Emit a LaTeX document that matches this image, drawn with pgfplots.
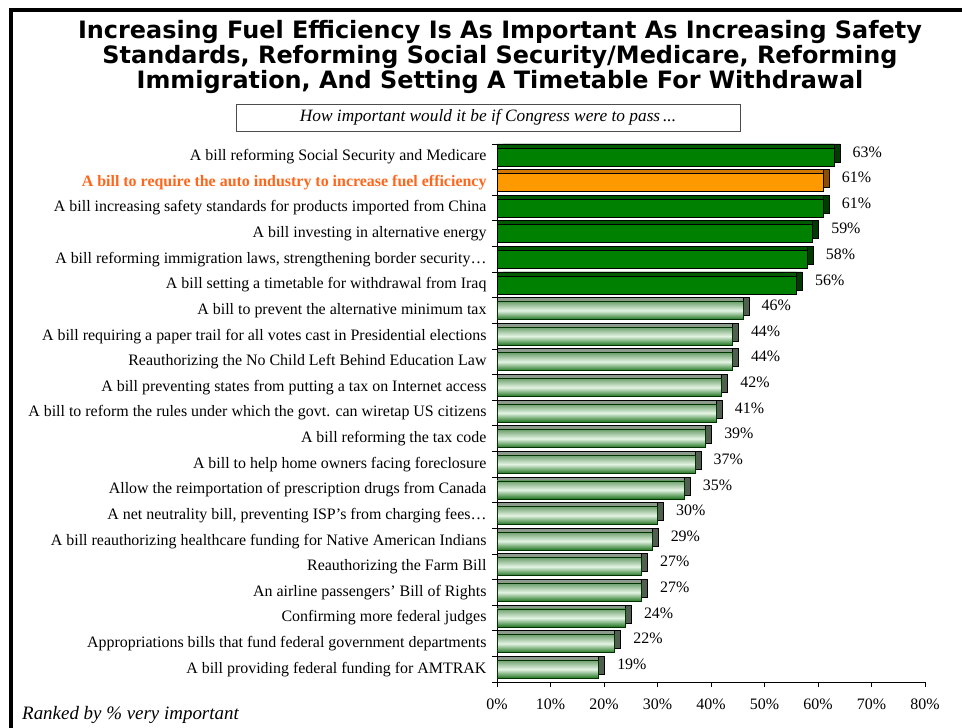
\documentclass[border=0pt]{standalone}
\usepackage{pgfplots}
\pgfplotsset{compat=1.18}
\usepackage{fontspec}
\setmainfont{Liberation Serif}
\newfontfamily\titlefont{DejaVu Sans}
\definecolor{dkfront}{RGB}{0,128,0}
\definecolor{dktop}{RGB}{0,90,0}
\definecolor{dkside}{RGB}{0,60,0}
\definecolor{orfront}{RGB}{255,153,0}
\definecolor{ortop}{RGB}{210,120,0}
\definecolor{orside}{RGB}{140,76,10}
\definecolor{ltA}{RGB}{110,160,110}
\definecolor{ltB}{RGB}{228,244,228}
\definecolor{ltC}{RGB}{30,115,30}
\definecolor{lttop}{RGB}{140,155,140}
\definecolor{ltside}{RGB}{80,95,80}
\definecolor{lblorange}{RGB}{255,102,26}
\pgfplotsset{
  mybar/.style={xbar, bar shift=0pt, bar width=18bp, line width=0.6bp},
  sidebar/.style={mybar, xshift=6bp, yshift=4bp, draw=black},
  topbar/.style={mybar, yshift=4bp, draw=black},
  vallabel/.style={nodes near coords={\pgfmathprintnumber{\pgfplotspointmeta}\%},
    point meta=x, nodes near coords align=horizontal,
    every node near coord/.style={anchor=west, xshift=15bp, yshift=5bp, font=\fontsize{16}{18}\selectfont, color=black}},
}
\newcommand\lightbar[2]{%
  \addplot[sidebar, fill=ltside] coordinates {(#1,#2)};
  \addplot[topbar, fill=lttop] coordinates {(#1,#2)};
  \addplot[mybar, draw=black!80!green, top color=ltA, bottom color=ltC, middle color=ltB, vallabel] coordinates {(#1,#2)};
}
\begin{document}
\begin{tikzpicture}[x=1bp,y=1bp]
\useasboundingbox (0,0) rectangle (962,-728);
\draw[line width=4bp] (11,-728) -- (11,-10.5) -- (962,-10.5);
\node[font=\titlefont\bfseries\fontsize{24}{25}\selectfont, align=center, anchor=north, inner sep=0] at (500,-20.5)
  {Increasing Fuel Efficiency Is As Important As Increasing Safety\\
   Standards, Reforming Social Security/Medicare, Reforming\\
   Immigration, And Setting A Timetable For Withdrawal};
\node[draw=black!70, line width=0.8bp, minimum width=504bp, minimum height=27bp, inner sep=0,
  font=\itshape\fontsize{17.4}{19}\selectfont] at (488,-117.5) {How important would it be if Congress were to pass\,...};
\node[anchor=base west, inner sep=0, font=\itshape\fontsize{19}{21}\selectfont] at (22,-719) {Ranked by \% very important};
\begin{axis}[
  at={(497bp,-682bp)}, anchor=south west, scale only axis,
  width=428bp, height=538bp,
  xmin=0, xmax=80, ymin=-0.5, ymax=20.5, y dir=reverse,
  clip=false,
  axis x line*=bottom, axis y line*=left,
  axis line style={line width=0.8bp},
  /pgf/number format/assume math mode=true,
  xtick={0,10,...,80},
  xticklabel={\pgfmathprintnumber{\tick}\%},
  xticklabel style={font=\fontsize{16}{18}\selectfont, yshift=-8bp},
  ytick={0,...,20},
  minor ytick={-0.5,0.5,...,20.5},
  major y tick style={draw=none},
  tick style={line width=0.8bp, black},
  tick align=outside,
  major tick length=5bp, minor tick length=5bp,
  yticklabel style={font=\fontsize{16}{18}\selectfont, xshift=-2bp},
  yticklabels={
    A bill reforming Social Security and Medicare,
    {\bfseries\color{lblorange}A bill to require the auto industry to increase fuel efficiency},
    A bill increasing safety standards for products imported from China,
    A bill investing in alternative energy,
    {A bill reforming immigration laws, strengthening border security…},
    A bill setting a timetable for withdrawal from Iraq,
    A bill to prevent the alternative minimum tax,
    A bill requiring a paper trail for all votes cast in Presidential elections,
    Reauthorizing the No Child Left Behind Education Law,
    A bill preventing states from putting a tax on Internet access,
    A bill to reform the rules under which the govt. can wiretap US citizens,
    A bill reforming the tax code,
    A bill to help home owners facing foreclosure,
    Allow the reimportation of prescription drugs from Canada,
    {A net neutrality bill, preventing ISP’s from charging fees…},
    A bill reauthorizing healthcare funding for Native American Indians,
    Reauthorizing the Farm Bill,
    An airline passengers’ Bill of Rights,
    Confirming more federal judges,
    Appropriations bills that fund federal government departments,
    A bill providing federal funding for AMTRAK},
]
% dark green bars
\addplot[sidebar, fill=dkside] coordinates {(63,0) (61,2) (59,3) (58,4) (56,5)};
\addplot[topbar, fill=dktop] coordinates {(63,0) (61,2) (59,3) (58,4) (56,5)};
\addplot[mybar, fill=dkfront, draw=black, vallabel] coordinates {(63,0) (61,2) (59,3) (58,4) (56,5)};
% orange bar
\addplot[sidebar, fill=orside] coordinates {(61,1)};
\addplot[topbar, fill=ortop] coordinates {(61,1)};
\addplot[mybar, fill=orfront, draw=black, vallabel] coordinates {(61,1)};
% light bars
\lightbar{46}{6}
\lightbar{44}{7}
\lightbar{44}{8}
\lightbar{42}{9}
\lightbar{41}{10}
\lightbar{39}{11}
\lightbar{37}{12}
\lightbar{35}{13}
\lightbar{30}{14}
\lightbar{29}{15}
\lightbar{27}{16}
\lightbar{27}{17}
\lightbar{24}{18}
\lightbar{22}{19}
\lightbar{19}{20}
\end{axis}
\end{tikzpicture}
\end{document}
